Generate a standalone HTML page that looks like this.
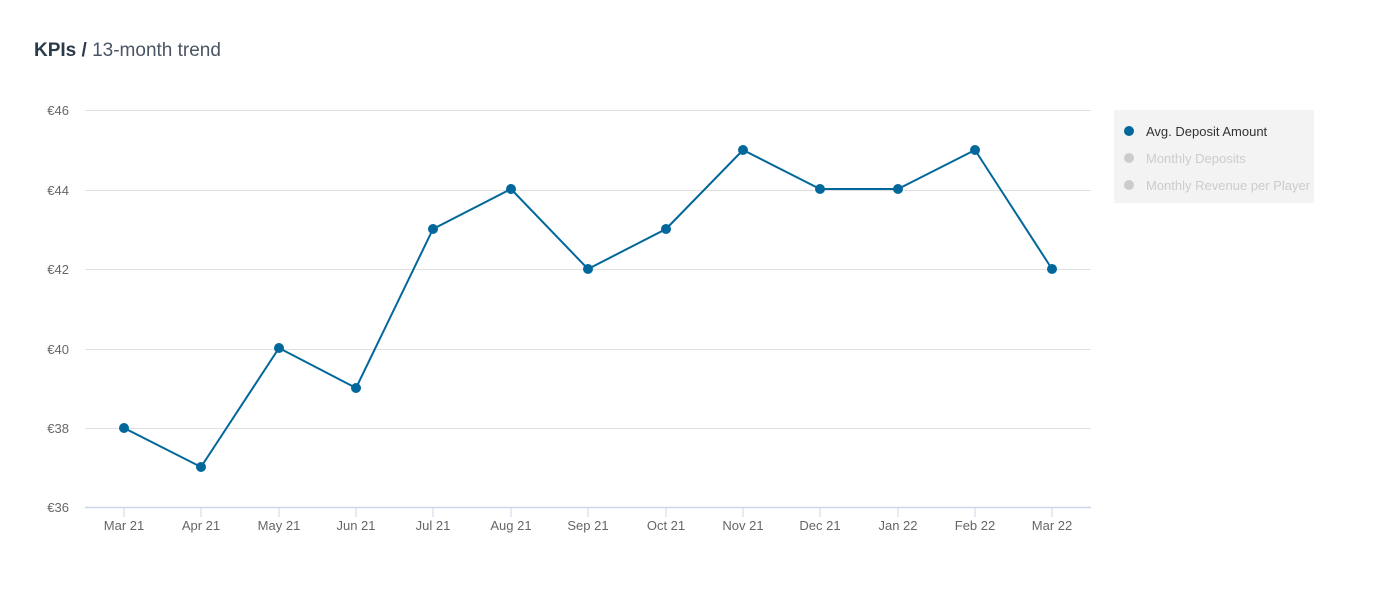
<!DOCTYPE html>
<html><head><style>
body{margin:0;background:#fff;width:1375px;height:585px;overflow:hidden;font-family:"Liberation Sans",sans-serif}
</style></head><body>
<svg width="1375" height="585" xmlns="http://www.w3.org/2000/svg" font-family="Liberation Sans, sans-serif">
<text x="34" y="56" font-size="19" fill="#2b3a4a"><tspan font-weight="bold">KPIs /</tspan><tspan fill="#4a5563"> 13-month trend</tspan></text>
<g stroke="#e0e0e0" stroke-width="1">
<line x1="85" x2="1091" y1="110.5" y2="110.5"/>
<line x1="85" x2="1091" y1="190.5" y2="190.5"/>
<line x1="85" x2="1091" y1="269.5" y2="269.5"/>
<line x1="85" x2="1091" y1="349.5" y2="349.5"/>
<line x1="85" x2="1091" y1="428.5" y2="428.5"/>
</g>
<line x1="85" x2="1091" y1="507.5" y2="507.5" stroke="#ccd6eb" stroke-width="1.5"/>
<g stroke="#ccd6eb" stroke-width="1">
<line x1="124" x2="124" y1="507" y2="517"/><line x1="201" x2="201" y1="507" y2="517"/><line x1="279" x2="279" y1="507" y2="517"/><line x1="356" x2="356" y1="507" y2="517"/><line x1="433" x2="433" y1="507" y2="517"/><line x1="511" x2="511" y1="507" y2="517"/><line x1="588" x2="588" y1="507" y2="517"/><line x1="666" x2="666" y1="507" y2="517"/><line x1="743" x2="743" y1="507" y2="517"/><line x1="820" x2="820" y1="507" y2="517"/><line x1="898" x2="898" y1="507" y2="517"/><line x1="975" x2="975" y1="507" y2="517"/><line x1="1052" x2="1052" y1="507" y2="517"/>
</g>
<g font-size="13" fill="#666" text-anchor="end">
<text x="69" y="115">€46</text><text x="69" y="195">€44</text><text x="69" y="274">€42</text><text x="69" y="354">€40</text><text x="69" y="433">€38</text><text x="69" y="512">€36</text>
</g>
<g font-size="13" fill="#666" text-anchor="middle">
<text x="124" y="530">Mar 21</text><text x="201" y="530">Apr 21</text><text x="279" y="530">May 21</text><text x="356" y="530">Jun 21</text><text x="433" y="530">Jul 21</text><text x="511" y="530">Aug 21</text><text x="588" y="530">Sep 21</text><text x="666" y="530">Oct 21</text><text x="743" y="530">Nov 21</text><text x="820" y="530">Dec 21</text><text x="898" y="530">Jan 22</text><text x="975" y="530">Feb 22</text><text x="1052" y="530">Mar 22</text>
</g>
<polyline fill="none" stroke="#02679a" stroke-width="2" points="124,428 201,467 279,348 356,388 433,229 511,189 588,269 666,229 743,150 820,189 898,189 975,150 1052,269"/>
<g fill="#02679a">
<circle cx="124" cy="428" r="5"/><circle cx="201" cy="467" r="5"/><circle cx="279" cy="348" r="5"/><circle cx="356" cy="388" r="5"/><circle cx="433" cy="229" r="5"/><circle cx="511" cy="189" r="5"/><circle cx="588" cy="269" r="5"/><circle cx="666" cy="229" r="5"/><circle cx="743" cy="150" r="5"/><circle cx="820" cy="189" r="5"/><circle cx="898" cy="189" r="5"/><circle cx="975" cy="150" r="5"/><circle cx="1052" cy="269" r="5"/>
</g>
<rect x="1114" y="110" width="200" height="93" fill="#f3f3f3"/>
<circle cx="1129" cy="131" r="5" fill="#02679a"/>
<circle cx="1129" cy="158" r="5" fill="#cccccc"/>
<circle cx="1129" cy="185" r="5" fill="#cccccc"/>
<g font-size="13">
<text x="1146" y="136" fill="#333">Avg. Deposit Amount</text>
<text x="1146" y="163" fill="#cccccc">Monthly Deposits</text>
<text x="1146" y="190" fill="#cccccc">Monthly Revenue per Player</text>
</g>
</svg>
</body></html>
